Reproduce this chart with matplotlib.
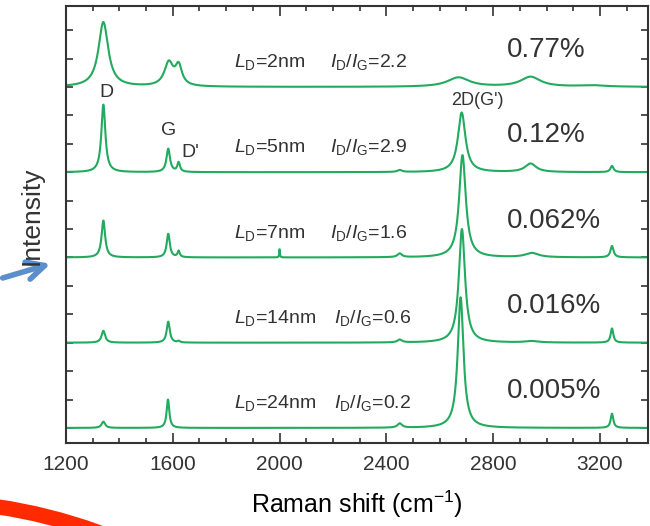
import numpy as np
import matplotlib
matplotlib.use('Agg')
import matplotlib.pyplot as plt
from matplotlib.patches import Circle, FancyArrowPatch
from matplotlib.transforms import IdentityTransform

# font setup
plt.rcParams['font.family'] = 'sans-serif'
plt.rcParams['font.sans-serif'] = ['Liberation Sans', 'DejaVu Sans']
plt.rcParams['mathtext.fontset'] = 'custom'
plt.rcParams['mathtext.rm'] = 'Liberation Sans'
plt.rcParams['mathtext.it'] = 'Liberation Sans:italic'
plt.rcParams['text.color'] = '#333333'
plt.rcParams['xtick.color'] = '#333333'
plt.rcParams['ytick.color'] = '#333333'

# data: one spectrum per defect spacing, stacked with vertical offsets
ld_nm = [2, 5, 7, 14, 24]
id_ig = [2.2, 2.9, 1.6, 0.6, 0.2]
percent_labels = ['0.77%', '0.12%', '0.062%', '0.016%', '0.005%']
offsets = [12, 9, 6, 3, 0]

# peaks: (centre cm^-1, height, half width)
peaks_2nm = [(1340, 2.28, 22), (1585, 0.82, 20), (1622, 0.68, 15),
             (2670, 0.33, 50), (2940, 0.35, 45), (3170, 0.05, 60)]
peaks_5nm = [(1340, 2.38, 9), (1583, 0.82, 8), (1622, 0.33, 6),
             (2450, 0.07, 10), (2682, 2.1, 17), (2940, 0.3, 25), (3245, 0.22, 7)]
peaks_7nm = [(1340, 1.3, 8), (1583, 0.83, 7), (1622, 0.22, 5), (2000, 0.3, 1.5),
             (2450, 0.13, 10), (2685, 3.6, 15), (2945, 0.15, 30), (3245, 0.4, 7)]
peaks_14nm = [(1340, 0.42, 8), (1583, 0.74, 7), (1622, 0.05, 5),
              (2450, 0.1, 10), (2683, 4.0, 14), (2945, 0.05, 30), (3245, 0.5, 6)]
peaks_24nm = [(1340, 0.22, 8), (1582, 1.0, 6), (2450, 0.15, 10),
              (2678, 4.6, 13), (3245, 0.5, 6)]
all_peaks = [peaks_2nm, peaks_5nm, peaks_7nm, peaks_14nm, peaks_24nm]

shift = np.linspace(1200, 3380, 3000)


def spectrum(peaks):
    y = np.zeros_like(shift)
    for c, h, w in peaks:
        y += h / (1 + ((shift - c) / w) ** 2)
    return y


fig = plt.figure(figsize=(6.5, 5.26), dpi=100)
ax = fig.add_axes([0.1015, 0.1578, 0.8955, 0.8308])

green = '#22aa5e'
for peaks, off in zip(all_peaks, offsets):
    ax.plot(shift, spectrum(peaks) + off, color=green, lw=1.5)

# text labels for each trace
for ld, r, pct, off in zip(ld_nm, id_ig, percent_labels, offsets):
    ax.text(1830, off + 0.7, r'$L_{\mathrm{D}}$=%dnm' % ld, fontsize=14)
    ax.text(2190 if ld < 10 else 2205, off + 0.7,
            r'$I_{\mathrm{D}}$/$I_{\mathrm{G}}$=%.1f' % r, fontsize=14)
    ax.text(2850, off + 1.05, pct, fontsize=20)

ax.text(1350, 11.65, 'D', fontsize=14, ha='center')
ax.text(1586, 10.31, 'G', fontsize=14, ha='center')
ax.text(1634, 9.54, "D'", fontsize=14)
ax.text(2741, 11.37, "2D(G')", fontsize=13, ha='center')

# axes
ax.set_xlim(1200, 3380)
ax.set_ylim(-0.53, 14.85)
ax.set_xticks(np.arange(1200, 3300, 400))
ax.set_xticks(np.arange(1200, 3400, 100), minor=True)
ax.set_yticks(np.arange(0, 15, 1))
ax.set_yticklabels([])
ax.tick_params(axis='both', which='both', direction='in', top=True, right=True,
               width=1.2, color='#333333')
ax.tick_params(axis='x', which='major', length=7, labelsize=15, pad=9)
ax.tick_params(axis='x', which='minor', length=3.5)
ax.tick_params(axis='y', which='major', length=5)
for s in ax.spines.values():
    s.set_color('#333333')
    s.set_linewidth(1.5)

ax.set_xlabel(r'Raman shift (cm$^{\mathregular{-1}}$)', fontsize=18, labelpad=10)
fig.text(0.048, 0.59, 'Intensity', rotation=90, fontsize=19,
         ha='center', va='center')

# blue arrow pointing at the axis
fig.add_artist(FancyArrowPatch(
    (0.0, 0.47), (0.082, 0.5), transform=fig.transFigure,
    arrowstyle='->', mutation_scale=32, lw=4, color='#5b8fcb'))

# red arc in the bottom-left corner (pixel coordinates)
fig.add_artist(Circle((-80, -498), 523, fill=False, ec='#ff2a00', lw=11,
                      transform=IdentityTransform()))

fig.savefig('out.png', dpi=100)
